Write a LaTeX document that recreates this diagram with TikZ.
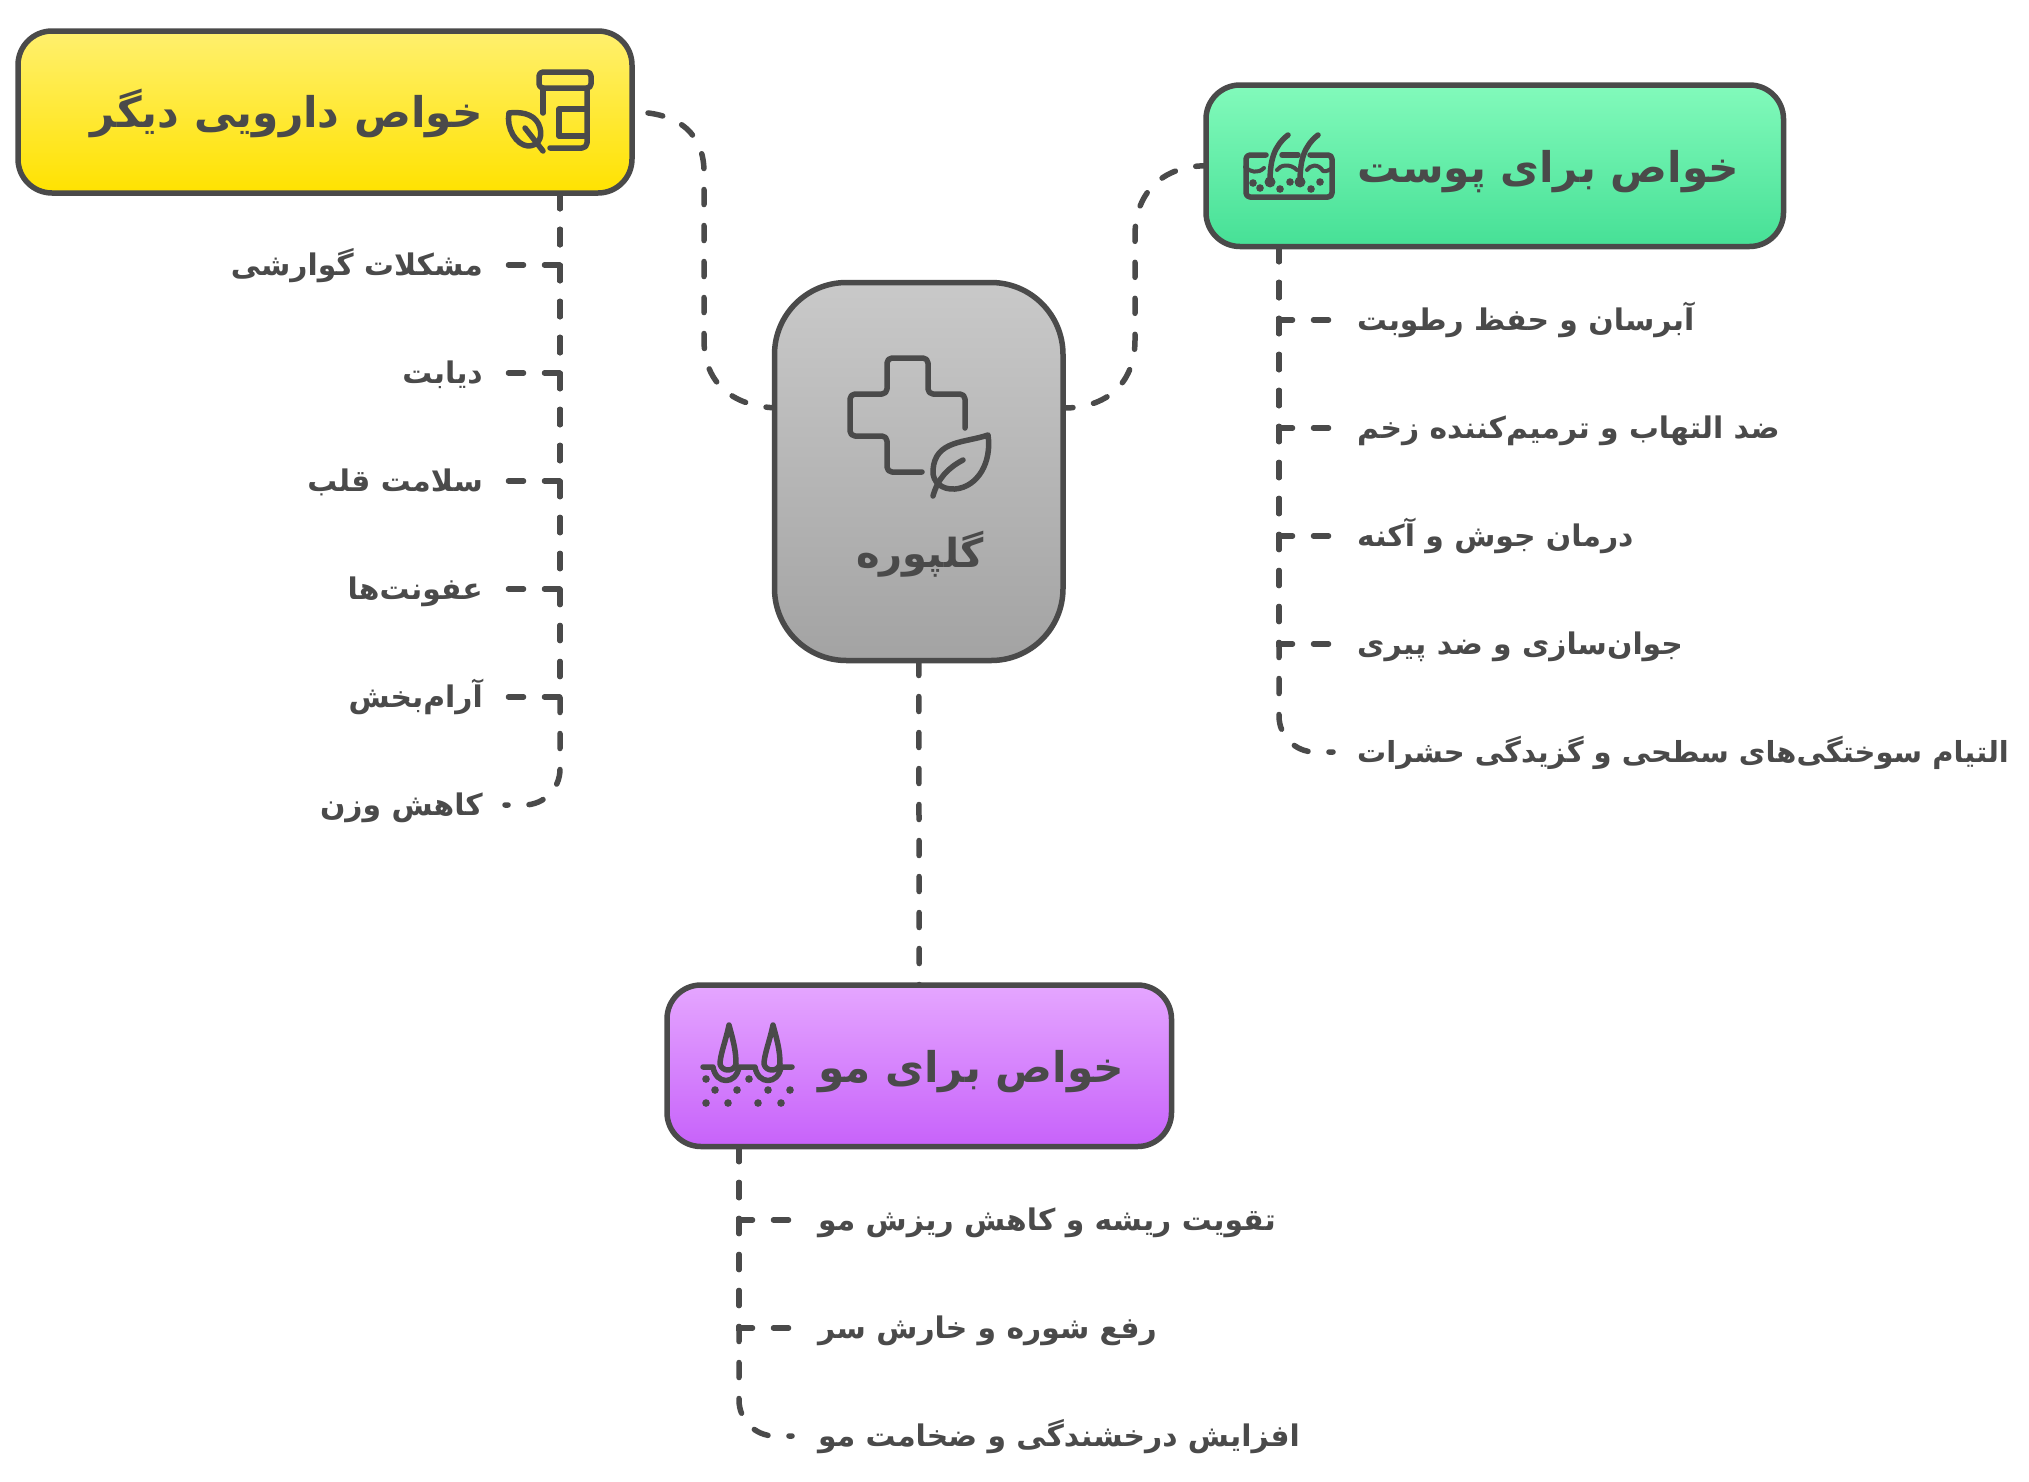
\documentclass[tikz,border=0pt]{standalone}
\usepackage{fontspec}
\TeXXeTstate=1
\newfontfamily\fafont[Script=Arabic]{DejaVu Sans Bold}
\usetikzlibrary{calc}
\definecolor{ink}{HTML}{4A4A4A}
\pgfdeclarelayer{bg}
\pgfsetlayers{bg,main}
\newcommand{\fa}[1]{\fafont\beginR #1\endR}
\tikzset{
  box/.style={draw=ink,line width=5.5pt,inner sep=0pt,outer sep=0pt},
  title/.style={text=ink,inner sep=0pt,font=\fontsize{42.3}{43}\selectfont},
  item/.style={text=ink,inner sep=0pt,font=\fontsize{29.8}{30}\selectfont},
  conn/.style={draw=ink,line width=5.5pt,line cap=round,dash pattern=on 15pt off 21pt},
  icon/.style={draw=ink,line width=5.5pt,line cap=round,line join=round},
  dotmark/.style={fill=ink,draw=none},
}
\begin{document}
\begin{tikzpicture}[x=1pt,y=-1pt]
\useasboundingbox (0,0) rectangle (2029,1481);
% main boxes
\node[box,rounded corners=34pt,minimum width=614pt,minimum height=162pt,top color={rgb,255:red,255;green,240;blue,110},bottom color={rgb,255:red,255;green,226;blue,0}] (yel) at (325,112) {};
\node[box,rounded corners=34pt,minimum width=577.5pt,minimum height=161.5pt,top color={rgb,255:red,130;green,250;blue,187},bottom color={rgb,255:red,70;green,224;blue,150}] (grn) at (1494.75,165.75) {};
\node[box,rounded corners=34pt,minimum width=504.5pt,minimum height=161.5pt,top color={rgb,255:red,229;green,166;blue,255},bottom color={rgb,255:red,199;green,98;blue,250}] (pur) at (919.25,1065.75) {};
\node[box,rounded corners=72pt,minimum width=288.5pt,minimum height=378pt,top color={rgb,255:red,201;green,201;blue,201},bottom color={rgb,255:red,163;green,163;blue,163}] (cen) at (918.75,471.5) {};
% titles
\node[title,anchor=base east] (tyel) at (483,127) {\fa{خواص دارویی دیگر}};
\node[title,anchor=base west] (tgrn) at (1357,182) {\fa{خواص برای پوست}};
\node[title,anchor=base west] (tpur) at (818,1082) {\fa{خواص برای مو}};
\node[title,anchor=base,font=\fontsize{40}{40}\selectfont] (tcen) at (920,567) {\fa{گلپوره}};
% items left
\node[item,anchor=base east] (y1) at (483,275) {\fa{مشکلات گوارشی}};
\node[item,anchor=base east] (y2) at (483,383) {\fa{دیابت}};
\node[item,anchor=base east] (y3) at (483,491) {\fa{سلامت قلب}};
\node[item,anchor=base east] (y4) at (483,599) {\fa{عفونت‌ها}};
\node[item,anchor=base east] (y5) at (483,707) {\fa{آرام‌بخش}};
\node[item,anchor=base east] (y6) at (483,815) {\fa{کاهش وزن}};
% items right
\node[item,anchor=base west] (g1) at (1357,330) {\fa{آبرسان و حفظ رطوبت}};
\node[item,anchor=base west] (g2) at (1357,438) {\fa{ضد التهاب و ترمیم‌کننده زخم}};
\node[item,anchor=base west] (g3) at (1357,546) {\fa{درمان جوش و آکنه}};
\node[item,anchor=base west] (g4) at (1357,654) {\fa{جوان‌سازی و ضد پیری}};
\node[item,anchor=base west,font=\fontsize{29}{30}\selectfont] (g5) at (1357,762) {\fa{التیام سوختگی‌های سطحی و گزیدگی حشرات}};
% items bottom
\node[item,anchor=base west] (p1) at (818,1230) {\fa{تقویت ریشه و کاهش ریزش مو}};
\node[item,anchor=base west] (p2) at (818,1338) {\fa{رفع شوره و خارش سر}};
\node[item,anchor=base west] (p3) at (818,1446) {\fa{افزایش درخشندگی و ضخامت مو}};
% anchors for connectors
\coordinate (cenL) at (781,408);
\coordinate (cenR) at (1058,408);
\coordinate (yt) at (560,193.5);
\coordinate (gt) at (1279,246.5);
\coordinate (pt) at (739,1146.5);
\coordinate (ye1) at (505,265);
\coordinate (ye2) at (505,373);
\coordinate (ye3) at (505,481);
\coordinate (ye4) at (505,589);
\coordinate (ye5) at (505,697);
\coordinate (ye6) at (505,805);
\coordinate (ge1) at (1335,320);
\coordinate (ge2) at (1335,428);
\coordinate (ge3) at (1335,536);
\coordinate (ge4) at (1335,644);
\coordinate (ge5) at (1333,752);
\coordinate (pe1) at (795,1220);
\coordinate (pe2) at (795,1328);
\coordinate (pe3) at (792,1436);
\begin{pgfonlayer}{bg}
\draw[conn] (cen.south) -- (pur.north);
\draw[conn] (cenL) .. controls (735,408) and (704,385) .. (704,340) -- (704,172) .. controls (704,135) and (680,112) .. (yel.east);
\draw[conn] (cenR) -- (1064,408) .. controls (1105,408) and (1135,385) .. (1135,340) -- (1135,235) .. controls (1135,195) and (1160,166) .. (grn.west);
\foreach \e in {ye1,ye2,ye3,ye4,ye5} \draw[conn] (yt) |- (\e);
\draw[conn,rounded corners=36pt] (yt) |- (ye6);
\foreach \e in {ge1,ge2,ge3,ge4} \draw[conn] (gt) |- (\e);
\draw[conn,rounded corners=36pt] (gt) |- (ge5);
\foreach \e in {pe1,pe2} \draw[conn] (pt) |- (\e);
\draw[conn,rounded corners=36pt] (pt) |- (pe3);
\end{pgfonlayer}
% centre icon
\draw[icon,rounded corners=5pt] (922,472) -- (887,472) -- (887,436) -- (850,436) -- (850,394) -- (887,394) -- (887,358) -- (928,358) -- (928,394) -- (965,394) -- (965,428);
\draw[icon] (988,435) .. controls (965,443) and (935,440) .. (933,470) .. controls (932,482) and (942,490) .. (955,489) .. controls (978,487) and (992,462) .. (988,435) -- cycle;
\draw[icon] (933,496) .. controls (938,478) and (948,468) .. (963,460);
% pill icon
\draw[icon,rounded corners=4pt] (539,72) rectangle (591,88);
\draw[icon] (543,88) -- (543,113);
\draw[icon,rounded corners=5pt] (587,88) -- (587,148) -- (550,148);
\draw[icon] (587,109) -- (559,109) -- (559,136) -- (587,136);
\draw[icon] (509,113) .. controls (525,111) and (537,116) .. (540,128) .. controls (543,139) and (537,146) .. (528,146) .. controls (516,145) and (506,128) .. (509,113) -- cycle;
\draw[icon] (525,128) -- (543,151);
% skin icon
\draw[icon,rounded corners=4pt] (1266,155) -- (1246,155) -- (1246,197) -- (1332,197) -- (1332,155) -- (1310,155);
\draw[icon] (1282,155) -- (1298,155);
\draw[icon,line width=4pt] (1245,167) .. controls (1250,172) and (1258,174) .. (1264,168);
\draw[icon,line width=4pt] (1277,170) .. controls (1280,165) and (1290,163) .. (1297,170);
\draw[icon,line width=4pt] (1307,170) .. controls (1310,165) and (1318,163) .. (1323,171) .. controls (1326,172) and (1330,170) .. (1333,167);
\draw[icon] (1270,182) .. controls (1270,160) and (1274,146) .. (1288,135);
\draw[icon] (1300,182) .. controls (1300,160) and (1304,146) .. (1318,135);
\foreach \p in {1270,1300}{\fill[dotmark] (\p,182) circle (5.5pt);}
\foreach \p/\q in {1253/183,1260/188,1280/189,1290/182,1311/189,1320/182}{\fill[dotmark] (\p,\q) circle (3.8pt);}
% hair icon
\draw[icon] (703,1067) -- (713,1067) .. controls (716,1085) and (736,1085) .. (739,1067) -- (755,1067) .. controls (758,1085) and (778,1085) .. (781,1067) -- (792,1067);
\draw[icon] (729,1025) .. controls (726,1040) and (720,1055) .. (720,1064) .. controls (722,1072) and (734,1072) .. (736,1064) .. controls (736,1050) and (733,1040) .. (729,1025) -- cycle;
\draw[icon] (773,1025) .. controls (770,1040) and (764,1055) .. (764,1064) .. controls (766,1072) and (778,1072) .. (780,1064) .. controls (780,1050) and (777,1040) .. (773,1025) -- cycle;
\foreach \p/\q in {706/1079,749/1079,715/1090,737/1090,768/1090,790/1090,706/1103,728/1103,758/1103,781/1103}{\fill[dotmark] (\p,\q) circle (3.8pt);}
\end{tikzpicture}
\end{document}
